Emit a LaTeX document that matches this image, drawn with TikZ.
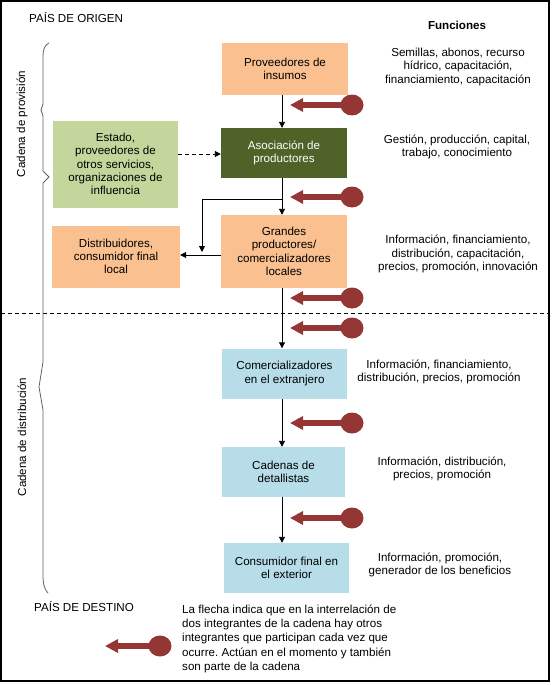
\documentclass[tikz,border=0pt]{standalone}
\usepackage{fontspec}
\setmainfont{Liberation Sans}
\usetikzlibrary{arrows.meta,positioning,shapes.geometric}
\definecolor{orangebox}{HTML}{FAC090}
\definecolor{darkgreen}{HTML}{4F6228}
\definecolor{lightgreen}{HTML}{C3D69B}
\definecolor{lightblue}{HTML}{B7DDE8}
\definecolor{pinred}{HTML}{943634}
\tikzset{
  box/.style={inner sep=0pt, align=center, font=\fontsize{11.6}{13.3}\selectfont},
  orbox/.style={box, fill=orangebox},
  blbox/.style={box, fill=lightblue},
  func/.style={inner sep=0pt, align=center, font=\fontsize{11.6}{13.3}\selectfont},
  arr/.style={line width=0.9pt, -{Triangle[length=6pt,width=6pt]}},
  pinhead/.style={ellipse, fill=pinred, minimum width=23pt, minimum height=21pt, inner sep=0pt},
  pinarrow/.style={pinred, line width=6pt, -{Triangle[length=13pt,width=13pt]}},
  bracepath/.style={draw=black!62, line width=0.8pt},
}
\begin{document}
\frenchspacing
\begin{tikzpicture}[x=1pt,y=-1pt]
\useasboundingbox (0,0) rectangle (552,685);
\draw[line width=1.1pt] (1,1) rectangle (549,681);
\draw[dashed, line width=0.9pt, dash pattern=on 4pt off 3pt] (1,313) -- (549,313);

% titles
\node[anchor=west, font=\fontsize{11.6}{13.3}\selectfont, inner sep=0pt] (origen) at (29,18) {PAÍS DE ORIGEN};
\node[anchor=west, font=\fontsize{11.6}{13.3}\selectfont, inner sep=0pt] (destino) at (34,607) {PAÍS DE DESTINO};
\node[font=\fontsize{11.6}{13.3}\selectfont\bfseries, inner sep=0pt] (funciones) at (457,25) {Funciones};

% braces
\draw[bracepath] (49,43) .. controls (45,45) and (43,49) .. (43,56) -- (43,104) -- (41,110) -- (43,116) -- (43,171) -- (49,177) -- (43,183) -- (43,362) -- (39,387) -- (43,410) -- (43,575) .. controls (43,585) and (45,590) .. (48,593);
\node[rotate=90, font=\fontsize{11.6}{13.3}\selectfont, inner sep=0pt] (provision) at (22,124) {Cadena de provisión};
\node[rotate=90, font=\fontsize{11.6}{13.3}\selectfont, inner sep=0pt] (distribucion) at (22,437) {Cadena de distribución};

% boxes
\node[orbox, minimum width=126pt, minimum height=51pt] (prov) at (285,69) {Proveedores de\\insumos};
\node[box, fill=darkgreen, text=white, minimum width=126pt, minimum height=50pt] (asoc) at (284,153) {Asociación de\\productores};
\node[box, fill=lightgreen, minimum width=125pt, minimum height=87pt] (estado) at (115.5,164) {Estado,\\proveedores de\\otros servicios,\\organizaciones de\\influencia};
\node[orbox, minimum width=126pt, minimum height=73pt] (grandes) at (284,251.5) {Grandes\\productores/\\comercializadores\\locales};
\node[orbox, minimum width=128pt, minimum height=62pt] (dist) at (116,256.5) {Distribuidores,\\consumidor final\\local};
\node[blbox, minimum width=125pt, minimum height=50pt] (comext) at (284.5,373.5) {Comercializadores\\en el extranjero};
\node[blbox, minimum width=123pt, minimum height=50pt] (cadenas) at (283.5,472) {Cadenas de\\detallistas};
\node[blbox, minimum width=125pt, minimum height=50pt] (consum) at (286.5,568) {Consumidor final en\\el exterior};

% functions
\node[func] (f1) at (458,67) {Semillas, abonos, recurso\\hídrico, capacitación,\\financiamiento, capacitación};
\node[func] (f2) at (457,147) {Gestión, producción, capital,\\trabajo, conocimiento};
\node[func] (f3) at (458,254) {Información, financiamiento,\\distribución, capacitación,\\precios, promoción, innovación};
\node[func] (f4) at (439,372) {Información, financiamiento,\\distribución, precios, promoción};
\node[func] (f5) at (442,469) {Información, distribución,\\precios, promoción};
\node[func] (f6) at (440,565) {Información, promoción,\\generador de los beneficios};

% black connectors
\coordinate (vx) at (282,0);
\draw[arr] (prov.south -| vx) -- (asoc.north -| vx);
\draw[arr] (asoc.south -| vx) -- (grandes.north -| vx);
\coordinate (br) at (282,199);
\coordinate (bl) at (202,199);
\coordinate (hl) at (0,255);
\draw[line width=0.9pt] (br) -- (bl);
\draw[arr] (bl) -- (bl |- 0,252);
\draw[arr] (grandes.west |- hl) -- (dist.east |- hl);
\draw[arr, dashed, dash pattern=on 4pt off 3pt] (estado.east |- 0,154) -- (asoc.west |- 0,154);
\draw[arr] (grandes.south -| vx) -- (comext.north -| vx);
\draw[arr] (comext.south -| vx) -- (cadenas.north -| vx);
\draw[arr] (cadenas.south -| vx) -- (consum.north -| vx);

% pins
\foreach \n/\y in {1/105,2/197,3/298,4/328,5/423,6/518}{
  \node[pinhead] (pin\n) at (352,\y) {};
  \coordinate (tip\n) at (290,\y);
  \draw[pinarrow] (pin\n.center) -- (tip\n);
}
\node[pinhead] (pinL) at (160,646) {};
\coordinate (tipL) at (105,646);
\draw[pinarrow] (pinL.center) -- (tipL);

% legend
\node[anchor=north west, inner sep=0pt, align=left, font=\fontsize{11.6}{14.1}\selectfont] (legend) at (182,605) {La flecha indica que en la interrelación de\\dos integrantes de la cadena hay otros\\integrantes que participan cada vez que\\ocurre. Actúan en el momento y también\\son parte de la cadena};
\end{tikzpicture}
\end{document}
